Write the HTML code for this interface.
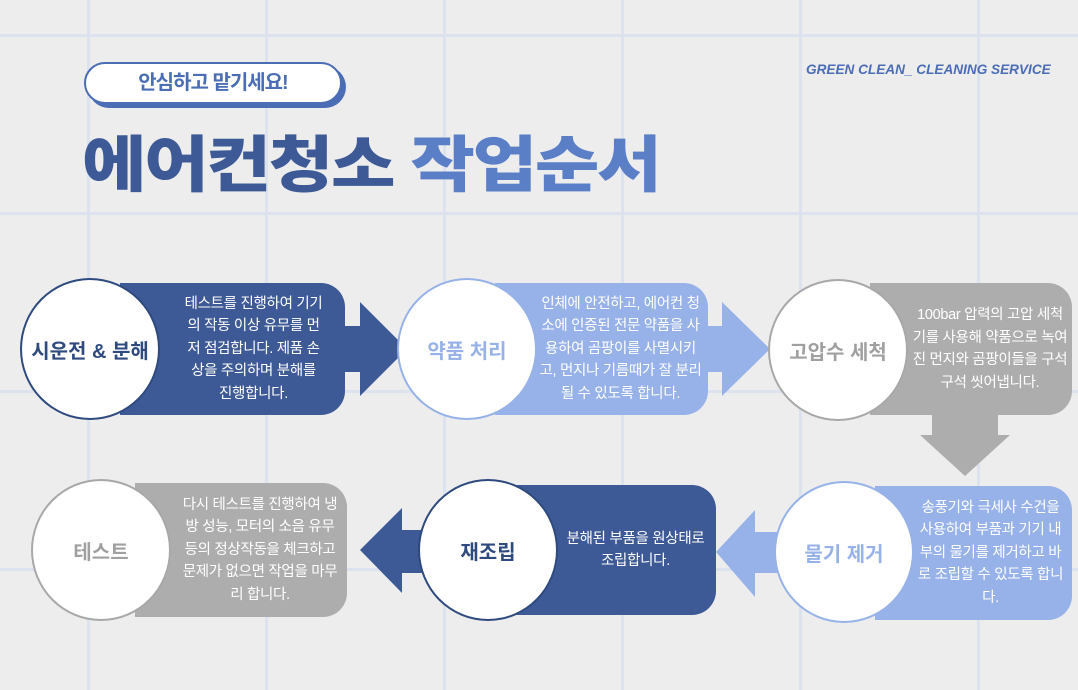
<!DOCTYPE html>
<html><head><meta charset="utf-8"><style>
body{margin:0;width:1078px;height:690px;overflow:hidden;background:#ededed;position:relative;font-family:"Liberation Sans","Noto Sans CJK KR",sans-serif}
.vl{position:absolute;top:0;width:3px;height:690px;background:#dce2ee}
.hl{position:absolute;left:0;height:3px;width:1078px;background:#dce2ee}
.rect{position:absolute;border-radius:0 24px 24px 0;color:#fff;font-size:14.5px;line-height:22.5px;letter-spacing:-0.3px;text-align:center;display:flex;align-items:center;justify-content:center;box-sizing:border-box;white-space:nowrap}
.circ{position:absolute;width:140px;height:142px;border-radius:50%;background:#fff;box-sizing:border-box;display:flex;align-items:center;justify-content:center;font-weight:bold;font-size:20px;white-space:nowrap}
.dk{background:#3d5a96}.lt{background:#97b2e8}.gr{background:#adadad}
</style></head><body>
<div class="vl" style="left:87px"></div><div class="vl" style="left:265px"></div><div class="vl" style="left:443px"></div><div class="vl" style="left:621px"></div><div class="vl" style="left:799px"></div><div class="vl" style="left:977px"></div>
<div class="hl" style="top:34px"></div><div class="hl" style="top:212px"></div><div class="hl" style="top:390px"></div><div class="hl" style="top:568px"></div>

<div style="position:absolute;left:88px;top:66px;width:258px;height:42px;border-radius:22px;background:#4a6db5"></div>
<div style="position:absolute;left:84px;top:62px;width:258px;height:42px;border-radius:22px;background:#fff;border:2px solid #4a6db5;box-sizing:border-box;text-align:center;line-height:38px;font-size:20px;font-weight:bold;color:#4a6db5;letter-spacing:-1px">안심하고 맡기세요!</div>
<div style="position:absolute;left:82px;top:120px;font-size:61px;font-weight:900;letter-spacing:-2px;line-height:90px;white-space:nowrap;color:#3d5a96;transform:scaleX(1.15);transform-origin:left center">에어컨청소 <span style="color:#5b7fc7">작업순서</span></div>
<div style="position:absolute;left:806px;top:62px;font-size:13.6px;font-weight:bold;font-style:italic;color:#4a6db5;white-space:nowrap">GREEN CLEAN_ CLEANING SERVICE</div>

<svg style="position:absolute;left:0;top:0" width="1078" height="690">
<polygon points="340,326 360,326 360,302 407,349 360,396 360,372 340,372" fill="#3d5a96"/>
<polygon points="703,326 722,326 722,302 770,349 722,396 722,372 703,372" fill="#97b2e8"/>
<polygon points="932,410 998,410 998,435 1010,435 965,476 920,435 932,435" fill="#adadad"/>
<polygon points="785,532 755,532 755,510 716,552 755,597 755,573 785,573" fill="#97b2e8"/>
<polygon points="430,530 402,530 402,508 360,550 402,593 402,573 430,573" fill="#3d5a96"/>
</svg>

<div class="rect dk" style="left:120px;top:283px;width:225px;height:132px;padding-left:42px">테스트를 진행하여 기기<br>의 작동 이상 유무를 먼<br>저 점검합니다. 제품 손<br>상을 주의하며 분해를<br>진행합니다.</div>
<div class="circ" style="left:20px;top:278px;border:2px solid #2f4a7f;color:#2f4a7f">시운전 &amp; 분해</div>

<div class="rect lt" style="left:495px;top:283px;width:213px;height:132px;padding-left:38px">인체에 안전하고, 에어컨 청<br>소에 인증된 전문 약품을 사<br>용하여 곰팡이를 사멸시키<br>고, 먼지나 기름때가 잘 분리<br>될 수 있도록 합니다.</div>
<div class="circ" style="left:397px;top:278px;border:2px solid #97b2e8;color:#97b2e8">약품 처리</div>

<div class="rect gr" style="left:870px;top:283px;width:202px;height:132px;padding-left:38px">100bar 압력의 고압 세척<br>기를 사용해 약품으로 녹여<br>진 먼지와 곰팡이들을 구석<br>구석 씻어냅니다.</div>
<div class="circ" style="left:768px;top:279px;border:2px solid #a8a8a8;color:#a0a0a0">고압수 세척</div>

<div class="rect lt" style="left:875px;top:486px;width:197px;height:134px;padding-left:34px">송풍기와 극세사 수건을<br>사용하여 부품과 기기 내<br>부의 물기를 제거하고 바<br>로 조립할 수 있도록 합니<br>다.</div>
<div class="circ" style="left:774px;top:481px;border:2px solid #97b2e8;color:#97b2e8">물기 제거</div>

<div class="rect dk" style="left:515px;top:485px;width:201px;height:130px;padding-left:40px">분해된 부품을 원상태로<br>조립합니다.</div>
<div class="circ" style="left:418px;top:479px;border:2px solid #2f4a7f;color:#2f4a7f">재조립</div>

<div class="rect gr" style="left:135px;top:483px;width:212px;height:134px;padding-left:38px">다시 테스트를 진행하여 냉<br>방 성능, 모터의 소음 유무<br>등의 정상작동을 체크하고<br>문제가 없으면 작업을 마무<br>리 합니다.</div>
<div class="circ" style="left:31px;top:479px;border:2px solid #a8a8a8;color:#a0a0a0">테스트</div>
</body></html>
